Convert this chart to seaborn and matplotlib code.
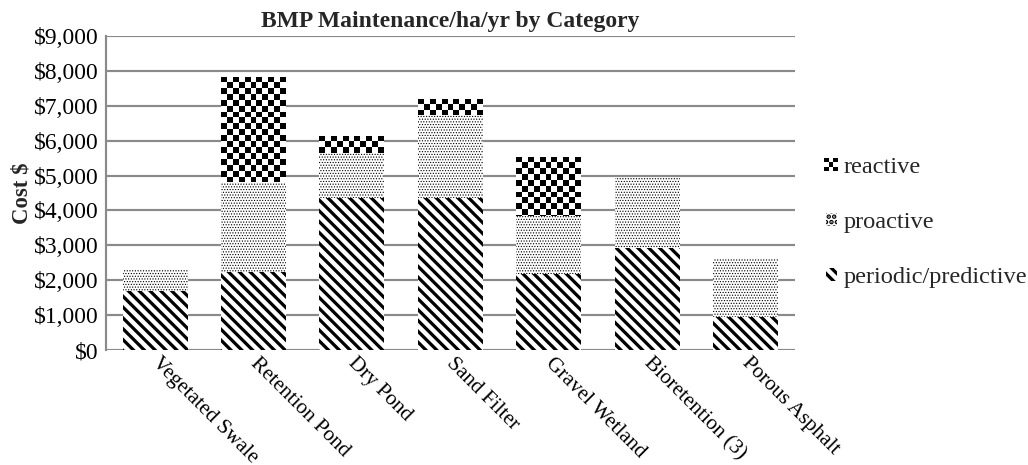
import numpy as np
import pandas as pd
import seaborn as sns
import matplotlib.pyplot as plt
import matplotlib.transforms as mtransforms
from matplotlib.patches import Patch, Rectangle
from matplotlib.legend_handler import HandlerBase
from matplotlib.ticker import FuncFormatter

# valores
categorias = ["Vegetated Swale", "Retention Pond", "Dry Pond", "Sand Filter",
              "Gravel Wetland", "Bioretention (3)", "Porous Asphalt"]
periodic = [1700, 2230, 4360, 4360, 2180, 2920, 950]
proactive = [600, 2580, 1290, 2370, 1660, 2010, 1690]
reactive = [0, 3010, 480, 460, 1690, 0, 0]
etiquetas = ["reactive", "proactive", "periodic/predictive"]
yticks = [0, 1000, 2000, 3000, 4000, 5000, 6000, 7000, 8000, 9000]

df = pd.DataFrame({"categoria": categorias, "periodic": periodic,
                   "proactive": proactive, "reactive": reactive})
df["nivel2"] = df["periodic"] + df["proactive"]
df["total"] = df["nivel2"] + df["reactive"]

RAYAS = "\\" * 4
PUNTOS = "." * 8

sns.set_theme(style="white")
plt.rcParams["font.family"] = ["Liberation Serif", "DejaVu Serif"]
plt.rcParams["hatch.linewidth"] = 1.8

DPI = 130
fig = plt.figure(figsize=(1028 / DPI, 465 / DPI), dpi=DPI)
ax = fig.add_axes([0.103, 0.247, 0.670, 0.676])
ax.set_xlim(-0.5, 6.5)
ax.set_ylim(0, 9000)


def capa(col, hatch, hlw, z):
    n0 = len(ax.patches)
    sns.barplot(data=df, x="categoria", y=col, color="white", width=0.66,
                ax=ax, zorder=z)
    parches = ax.patches[n0:]
    for p in parches:
        p.set_facecolor("white")
        p.set_edgecolor("black")
        p.set_linewidth(0)
        if hatch:
            p.set_hatch(hatch)
            if hasattr(p, "set_hatch_linewidth"):
                p.set_hatch_linewidth(hlw)
    return parches


# se apilan de arriba hacia abajo: total, luego periodic+proactive, luego periodic
sup = capa("total", None, 0, 2)
ax.set_xlim(-0.5, 6.5)
ax.set_ylim(0, 9000)

# tablero de ajedrez para "reactive"
ancho_px = ax.get_window_extent().width / 7
alto_px = ax.get_window_extent().height / 9000
for p in sup:
    x0, w = p.get_x(), p.get_width()
    ytop = p.get_y() + p.get_height()
    ncol = 11
    lado = w * ancho_px / ncol           # pixeles por cuadro
    lado_y = lado / alto_px              # en unidades de datos
    nfil = int(np.ceil(p.get_height() / lado_y)) + 1
    tablero = (np.add.outer(np.arange(nfil), np.arange(ncol)) % 2).astype(float)
    im = ax.imshow(tablero, cmap="gray", vmin=0, vmax=1, interpolation="nearest",
                   extent=(x0, x0 + w, ytop - nfil * lado_y, ytop),
                   aspect="auto", zorder=2.5, origin="upper")
    im.set_clip_path(p)

capa("nivel2", PUNTOS, 0.4, 3)
capa("periodic", RAYAS, 1.8, 4)

ax.set_xlim(-0.5, 6.5)
ax.set_ylim(0, 9000)
ax.set_yticks(yticks)
ax.yaxis.set_major_formatter(FuncFormatter(lambda v, _: f"${v:,.0f}"))
ax.grid(axis="y", color="#8a8a8a", linewidth=1.2, zorder=0)
ax.set_axisbelow(True)
for s in ["top", "right", "bottom"]:
    ax.spines[s].set_visible(False)
ax.spines["left"].set_color("#8a8a8a")
ax.spines["left"].set_linewidth(1.2)
ax.tick_params(axis="y", length=0, labelsize=13, colors="black", pad=4)
ax.tick_params(axis="x", length=0, colors="black", pad=2)
ax.set_xticks(range(len(categorias)))
ax.set_xticklabels(categorias, rotation=-45, ha="left", va="top",
                   rotation_mode="anchor", fontsize=11.8)
desplaza = mtransforms.ScaledTranslation(6 / DPI, 0, fig.dpi_scale_trans)
for t in ax.get_xticklabels():
    t.set_transform(t.get_transform() + desplaza)
ax.set_xlabel("")
ax.set_ylabel("Cost $", fontsize=12.6, fontweight="bold", labelpad=1)
ax.set_title("BMP Maintenance/ha/yr by Category", fontsize=13.1,
             fontweight="bold", pad=5)


class HandlerTablero(HandlerBase):
    def create_artists(self, legend, orig_handle, xdescent, ydescent,
                       width, height, fontsize, trans):
        arts = []
        n = 3
        s = height / n
        x0 = -xdescent + (width - height) / 2
        for i in range(n):
            for j in range(n):
                c = "black" if (i + j) % 2 == 0 else "white"
                r = Rectangle((x0 + j * s, -ydescent + i * s), s, s,
                              facecolor=c, edgecolor="none", transform=trans)
                arts.append(r)
        return arts


h_reac = Patch(facecolor="black", label=etiquetas[0])
h_pro = Patch(facecolor="white", edgecolor="black", hatch="....", linewidth=0)
h_per = Patch(facecolor="white", edgecolor="black", hatch=RAYAS, linewidth=0)
for h, lw in [(h_pro, 0.3), (h_per, 1.8)]:
    if hasattr(h, "set_hatch_linewidth"):
        h.set_hatch_linewidth(lw)

ax.legend([h_reac, h_pro, h_per], etiquetas, loc="center left",
          bbox_to_anchor=(1.013, 0.405), frameon=False, fontsize=13.5,
          handlelength=0.45, handleheight=0.45, handletextpad=0.3,
          labelspacing=1.4, handler_map={h_reac: HandlerTablero()})

fig.savefig("out.png", dpi=DPI)
